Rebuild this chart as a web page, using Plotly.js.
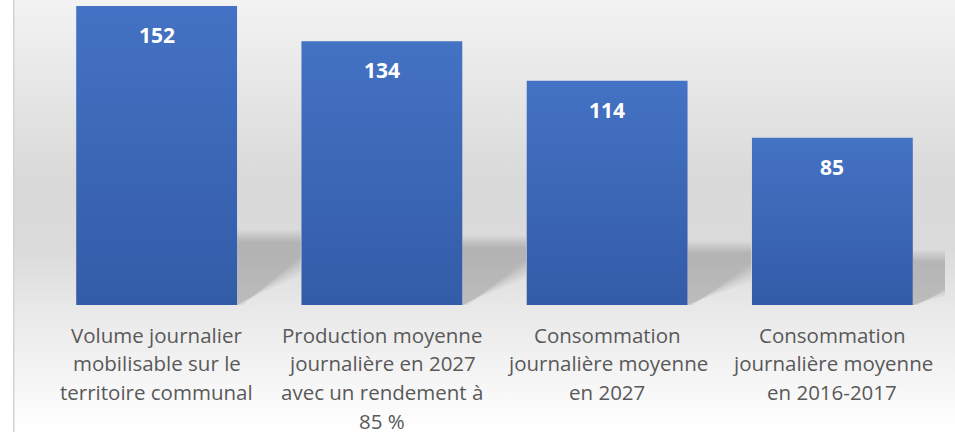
<!DOCTYPE html>
<html><head><meta charset="utf-8">
<script src="https://cdn.plot.ly/plotly-3.0.1.min.js"></script>
<style>html,body{margin:0;padding:0;background:#fff}#c{width:955px;height:432px}</style>
</head><body><div id="c"></div>
<script>
const categories = [
  "Volume journalier<br>mobilisable sur le<br>territoire communal",
  "Production moyenne<br>journalière en 2027<br>avec un rendement à<br>85 %",
  "Consommation<br>journalière moyenne<br>en 2027",
  "Consommation<br>journalière moyenne<br>en 2016-2017"
];
const values = [152, 134, 114, 85];
const valueLabels = ["152", "134", "114", "85"];

const xIdx = categories.map((_, i) => i);
const halfW = 0.357, shW = 0.283;
const pxX = 1 / 225.25, pxY = 1 / 1.967;

const bg = 'data:image/svg+xml;utf8,' + encodeURIComponent(
 `<svg xmlns="http://www.w3.org/2000/svg" width="955" height="432" viewBox="0 0 955 432" preserveAspectRatio="none">
  <defs><linearGradient id="g" x1="0" y1="0" x2="0" y2="1">
   <stop offset="0" stop-color="#f3f3f3"/>
   <stop offset="0.42" stop-color="#d9d9d9"/>
   <stop offset="0.58" stop-color="#dbdbdb"/>
   <stop offset="0.72" stop-color="#e9e9e9"/>
   <stop offset="1" stop-color="#ffffff"/>
  </linearGradient></defs>
  <rect x="0" y="0" width="955" height="432" fill="#ffffff"/>
  <rect x="14" y="0" width="941" height="432" fill="url(#g)"/>
  <rect x="13" y="0" width="1.5" height="432" fill="#d4d4d4"/>
 </svg>`);

const shapes = [];
values.forEach((v, i) => {
  const xr = i + halfW;
  const top = 0.15 * v + 15;
  for (let k = 0; k < 6; k++) {
    const ins = k * 2.2;
    const t = top - ins * pxY;
    const rY = top * 0.65 - ins * 1.6 * pxY;
    const bX = xr + (6 - ins * 0.8) * pxX;
    const path = `M ${xr} 0 L ${xr} ${t} L ${xr + shW} ${t} L ${xr + shW} ${Math.max(rY, 0)} L ${Math.max(bX, xr)} 0 Z`;
    shapes.push({type: 'path', xref: 'x', yref: 'y', path: path, layer: 'below',
      fillcolor: 'rgba(0,0,0,0.033)', line: {width: 0}});
  }
});

const annotations = [];
values.forEach((v, i) => {
  annotations.push({x: i, y: v, xref: 'x', yref: 'y', text: '<b>' + valueLabels[i] + '</b>',
    showarrow: false, yanchor: 'middle', yshift: -29,
    font: {family: 'Open Sans', size: 21, color: '#ffffff'}});
  categories[i].split('<br>').forEach((line, k) => {
    annotations.push({x: i, y: 0, xref: 'x', yref: 'paper', text: line, showarrow: false,
      yanchor: 'middle', yshift: -(29.5 + 28.7 * k),
      font: {family: 'Open Sans', size: 20.5, color: '#595959'}});
  });
});

const trace = {type: 'bar', x: xIdx, y: values, width: 2 * halfW,
  marker: {color: '#3c67b8', line: {width: 0}}, hoverinfo: 'skip'};

const layout = {
  width: 955, height: 432,
  margin: {l: 44, r: 10, t: 0, b: 127},
  paper_bgcolor: 'rgba(0,0,0,0)', plot_bgcolor: 'rgba(0,0,0,0)',
  xaxis: {range: [-0.5, 3.5], showticklabels: false, showgrid: false, zeroline: false, showline: false, ticks: ''},
  yaxis: {range: [0, 155], showticklabels: false, showgrid: false, zeroline: false, showline: false, ticks: ''},
  showlegend: false,
  images: [{source: bg, xref: 'paper', yref: 'paper', x: -44/901, y: 1, sizex: 955/901, sizey: 432/305,
    xanchor: 'left', yanchor: 'top', sizing: 'stretch', layer: 'below'}],
  shapes: shapes,
  annotations: annotations
};
Plotly.newPlot('c', [trace], layout, {displayModeBar: false, staticPlot: true}).then(gd => {
  const svgNS = 'http://www.w3.org/2000/svg';
  const svg = gd.querySelector('svg.main-svg');
  let defs = svg.querySelector('defs');
  if (!defs) { defs = document.createElementNS(svgNS, 'defs'); svg.insertBefore(defs, svg.firstChild); }
  const lg = document.createElementNS(svgNS, 'linearGradient');
  lg.setAttribute('id', 'barGrad');
  lg.setAttribute('x1', '0'); lg.setAttribute('y1', '0'); lg.setAttribute('x2', '0'); lg.setAttribute('y2', '1');
  [['0', '#4472c4'], ['1', '#335ca8']].forEach(([o, c]) => {
    const s = document.createElementNS(svgNS, 'stop');
    s.setAttribute('offset', o); s.setAttribute('stop-color', c); lg.appendChild(s);
  });
  defs.appendChild(lg);
  gd.querySelectorAll('.bars .point path').forEach(p => { p.style.fill = 'url(#barGrad)'; });
});
</script></body></html>
